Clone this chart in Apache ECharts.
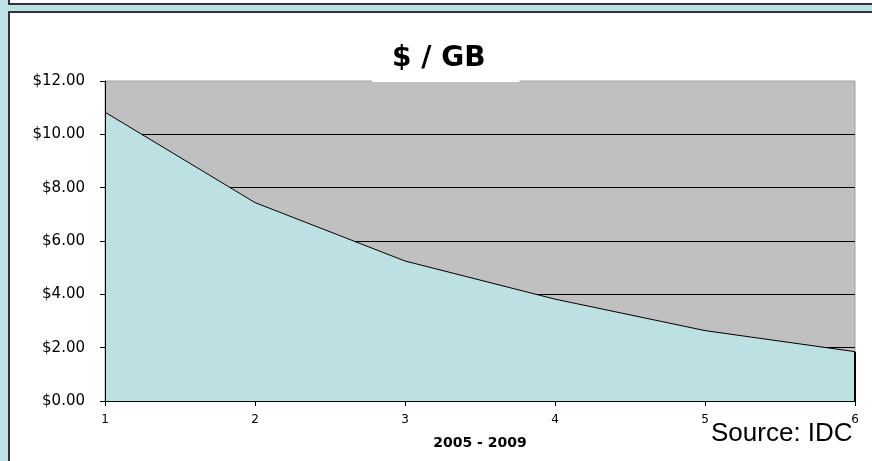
<!DOCTYPE html>
<html>
<head>
<meta charset="utf-8">
<script src="https://cdn.jsdelivr.net/npm/echarts@6/dist/echarts.min.js"></script>
<style>
  html, body { margin: 0; padding: 0; width: 872px; height: 461px; overflow: hidden; background: #bde1e4; }
  #topbox { position: absolute; left: 8px; top: -12px; width: 900px; height: 13px; background: #fff; border: 2px solid #333; }
  #mainbox { position: absolute; left: 8px; top: 11px; width: 900px; height: 500px; background: #fff; border: 2px solid #333; }
  #chart { position: absolute; left: 0; top: 0; width: 872px; height: 461px; }
</style>
</head>
<body>
<div id="topbox"></div>
<div id="mainbox"></div>
<div id="chart"></div>
<script>
const categories = ['1', '2', '3', '4', '5', '6'];
const pricePerGB = [10.83, 7.44, 5.25, 3.82, 2.64, 1.85];
const yMin = 0, yMax = 12, yStep = 2;
const titleText = '$ / GB';
const xAxisTitle = '2005 - 2009';
const sourceText = 'Source: IDC';

const lastIdx = categories.length - 1;
const chart = echarts.init(document.getElementById('chart'), null, { renderer: 'canvas' });
chart.setOption({
  animation: false,
  title: {
    text: titleText,
    left: 372,
    top: 38,
    padding: [6, 34, 8, 20],
    backgroundColor: '#ffffff',
    textStyle: { fontFamily: 'DejaVu Sans', fontWeight: 'bold', fontSize: 28, lineHeight: 30, color: '#000' }
  },
  grid: {
    left: 105, right: 17, top: 81, bottom: 60,
    show: true, backgroundColor: '#c0c0c0', borderColor: '#a0a0a0', borderWidth: 1
  },
  xAxis: {
    type: 'category',
    data: categories,
    boundaryGap: false,
    z: 10,
    name: xAxisTitle,
    nameLocation: 'middle',
    nameGap: 35,
    nameTextStyle: { fontFamily: 'DejaVu Sans', fontWeight: 'bold', fontSize: 14, color: '#000' },
    axisLine: { lineStyle: { color: '#000', width: 1 } },
    axisTick: { show: true, length: 5, alignWithLabel: true, lineStyle: { color: '#000' } },
    axisLabel: { fontFamily: 'DejaVu Sans', fontSize: 12, color: '#000', margin: 13, showMaxLabel: true, showMinLabel: true },
    splitLine: { show: false }
  },
  yAxis: [{
    type: 'value',
    min: yMin, max: yMax, interval: yStep,
    z: 0,
    axisLine: { show: false },
    axisTick: { show: false },
    axisLabel: { show: false },
    splitLine: { show: true, showMaxLine: false, showMinLine: false, lineStyle: { color: '#000', width: 1 } }
  }, {
    type: 'value',
    position: 'left',
    min: yMin, max: yMax, interval: yStep,
    z: 10,
    axisLine: { show: true, lineStyle: { color: '#000', width: 1 } },
    axisTick: { show: true, length: 5, lineStyle: { color: '#000' } },
    axisLabel: { fontFamily: 'DejaVu Sans', fontSize: 15, color: '#000', margin: 20, formatter: v => '$' + v.toFixed(2) },
    splitLine: { show: false }
  }],
  series: [{
    type: 'line',
    yAxisIndex: 0,
    data: pricePerGB,
    symbol: 'none',
    lineStyle: { color: '#000', width: 1 },
    areaStyle: { color: '#bde0e3', opacity: 1 },
    z: 3,
    markLine: {
      silent: true,
      symbol: 'none',
      label: { show: false },
      lineStyle: { color: '#000', width: 2, type: 'solid' },
      data: [[{ coord: [categories[lastIdx], yMin] }, { coord: [categories[lastIdx], pricePerGB[lastIdx]] }]]
    }
  }],
  graphic: [{
    type: 'text',
    z: 100,
    style: { text: sourceText, x: 711, y: 421, font: '26px "Liberation Sans", Arial, sans-serif', fill: '#000', textVerticalAlign: 'top' }
  }]
});
</script>
</body>
</html>
